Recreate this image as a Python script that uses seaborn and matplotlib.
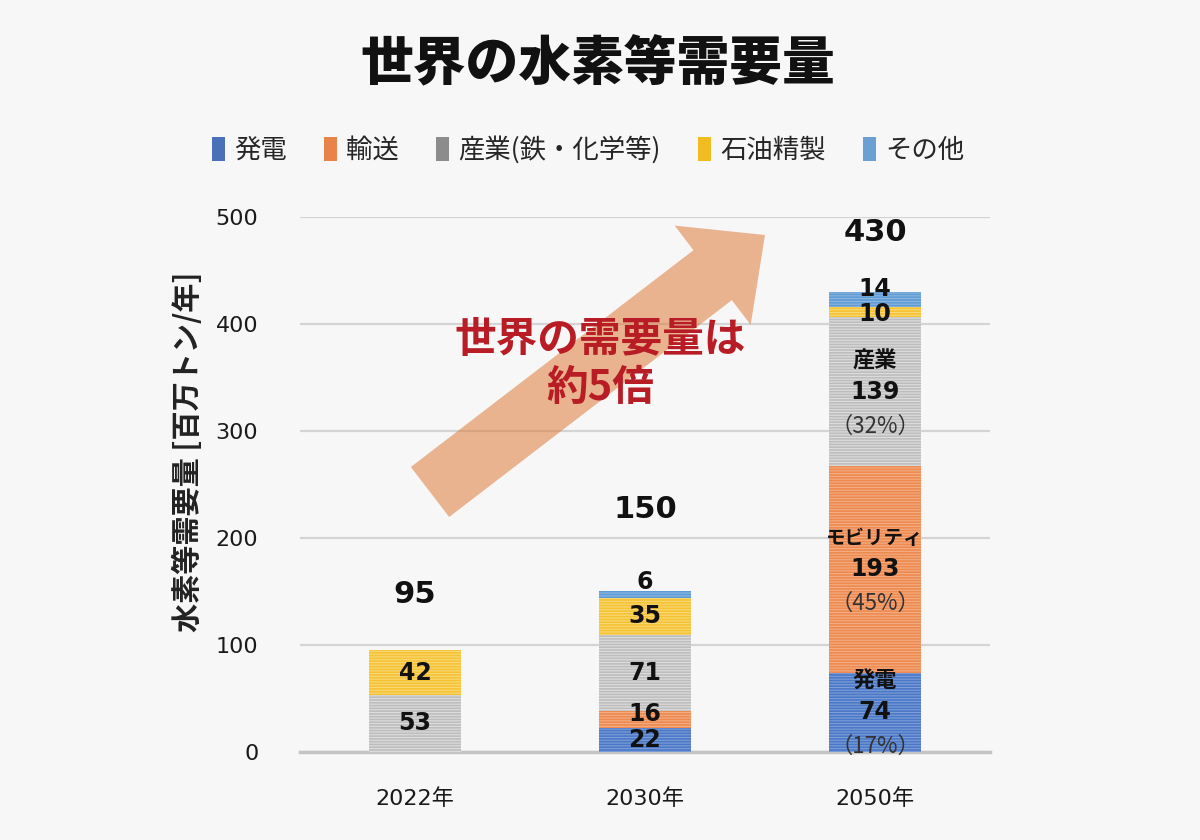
import matplotlib
matplotlib.use("Agg")
import matplotlib.pyplot as plt
from matplotlib.patches import Polygon, Patch
import numpy as np
import seaborn as sns

years = ["2022年", "2030年", "2050年"]
categories = ["発電", "輸送", "産業(鉄・化学等)", "石油精製", "その他"]
power = [0, 22, 74]
transport = [0, 16, 193]
industry = [53, 71, 139]
refining = [42, 35, 10]
other = [0, 6, 14]
totals = [95, 150, 430]

# detailed labels on the 2050 bar
detail_names = {0: "発電", 1: "モビリティ", 2: "産業"}
detail_pcts = {0: "（17%）", 1: "（45%）", 2: "（32%）"}

colors = ["#4a78c6", "#ee8a4f", "#bdbdbd", "#f5c232", "#5f9bd4"]
stripe = ["#7d9ed8", "#f3ad85", "#dedede", "#f8d878", "#8db8e2"]
legend_colors = ["#4a70b8", "#e8844a", "#8c8c8c", "#f0bc20", "#6aa0d4"]

sns.set_theme(style="white")
plt.rcParams["font.family"] = ["DejaVu Sans", "Noto Sans CJK JP"]
plt.rcParams["hatch.linewidth"] = 0.8
CJK = ["Noto Sans CJK JP", "DejaVu Sans"]

fig = plt.figure(figsize=(12, 8.4), dpi=100, facecolor="#f7f7f7")
ax = fig.add_axes([0.25, 0.105, 0.575, 0.637])
ax.set_facecolor("#f7f7f7")

series = [power, transport, industry, refining, other]
bottom = np.zeros(len(years))
for vals, c, sc in zip(series, colors, stripe):
    sns.barplot(x=years, y=vals, bottom=bottom, color=c, saturation=1,
                width=0.4, ax=ax, edgecolor=sc, linewidth=0,
                hatch="------", zorder=3)
    bottom = bottom + np.array(vals)

ax.set_xlim(-0.5, 2.5)
ax.set_ylim(0, 500)
ax.set_yticks(range(0, 501, 100))
ax.yaxis.grid(True, color="#d4d4d4", linewidth=1.6, zorder=0)
ax.set_axisbelow(True)
for s in ["top", "right", "left"]:
    ax.spines[s].set_visible(False)
ax.spines["bottom"].set_color("#c4c4c4")
ax.spines["bottom"].set_linewidth(2.5)
ax.tick_params(axis="both", length=0, labelsize=16, colors="#1a1a1a")
ax.tick_params(axis="x", pad=26)
ax.tick_params(axis="y", pad=30)
ax.set_xlabel("")
ax.set_ylabel("水素等需要量 [百万トン/年]", fontsize=21, fontweight="bold",
              color="#222222", family=CJK)
ax.yaxis.set_label_coords(-0.14, 0.56)

# small nudges for crowded labels (data units)
nudges = {(1, 1): 5, (2, 3): -2, (2, 4): 9}

bottom = np.zeros(len(years))
for k, vals in enumerate(series):
    for i, v in enumerate(vals):
        if v == 0:
            continue
        mid = bottom[i] + v / 2
        if i == 2 and k in detail_names:
            nfs = 14 if k == 1 else 16
            ax.text(i, mid + 29, detail_names[k], ha="center", va="center",
                    fontsize=nfs, fontweight="bold", color="#111111",
                    family=CJK, zorder=5)
            ax.text(i, mid, str(v), ha="center", va="center",
                    fontsize=17, fontweight="bold", color="#111111", zorder=5)
            ax.text(i, mid - 32, detail_pcts[k], ha="center", va="center",
                    fontsize=16, color="#333333", family=CJK, zorder=5)
        elif v < 8:
            ax.text(i, bottom[i] + v + 9, str(v), ha="center", va="center",
                    fontsize=17, fontweight="bold", color="#111111", zorder=5)
        else:
            ax.text(i, mid + nudges.get((i, k), 0), str(v), ha="center",
                    va="center", fontsize=17, fontweight="bold",
                    color="#111111", zorder=5)
    bottom = bottom + np.array(vals)

total_offsets = [52, 76, 55]
for i, t in enumerate(totals):
    ax.text(i, t + total_offsets[i], str(t), ha="center", va="center",
            fontsize=22, fontweight="bold", color="#111111", zorder=5)

# big arrow (pixel coordinates, y from top)
tail = np.array([430.0, 492.0])
tip = np.array([765.0, 235.0])
d = (tip - tail) / np.linalg.norm(tip - tail)
n = np.array([-d[1], d[0]])
shaft_w, head_w, head_l = 63, 125, 66
base = tip - d * head_l
pts = [tail + n * shaft_w / 2, base + n * shaft_w / 2, base + n * head_w / 2,
       tip, base - n * head_w / 2, base - n * shaft_w / 2, tail - n * shaft_w / 2]
pts = [(p[0] / 1200, 1 - p[1] / 840) for p in pts]
fig.patches.append(Polygon(pts, closed=True, transform=fig.transFigure,
                           facecolor="#e07b3c", alpha=0.55, edgecolor="none",
                           zorder=4))

fig.text(600 / 1200, 1 - 364 / 840, "世界の需要量は\n約5倍", ha="center",
         va="center", fontsize=30, fontweight="bold", color="#b81c25",
         linespacing=1.2, family=CJK, zorder=6)

fig.text(598 / 1200, 1 - 65 / 840, "世界の水素等需要量", ha="center",
         va="center", fontsize=38, fontweight="heavy", color="#111111",
         family=CJK)

handles = [Patch(facecolor=c, edgecolor="none") for c in legend_colors]
fig.legend(handles, categories, loc="center", bbox_to_anchor=(0.49, 1 - 150 / 840),
           ncol=5, frameon=False, prop={"family": CJK, "size": 19},
           handlelength=0.5, handleheight=1.0, handletextpad=0.35,
           columnspacing=1.4)

fig.savefig("out.png", dpi=100, facecolor=fig.get_facecolor())
